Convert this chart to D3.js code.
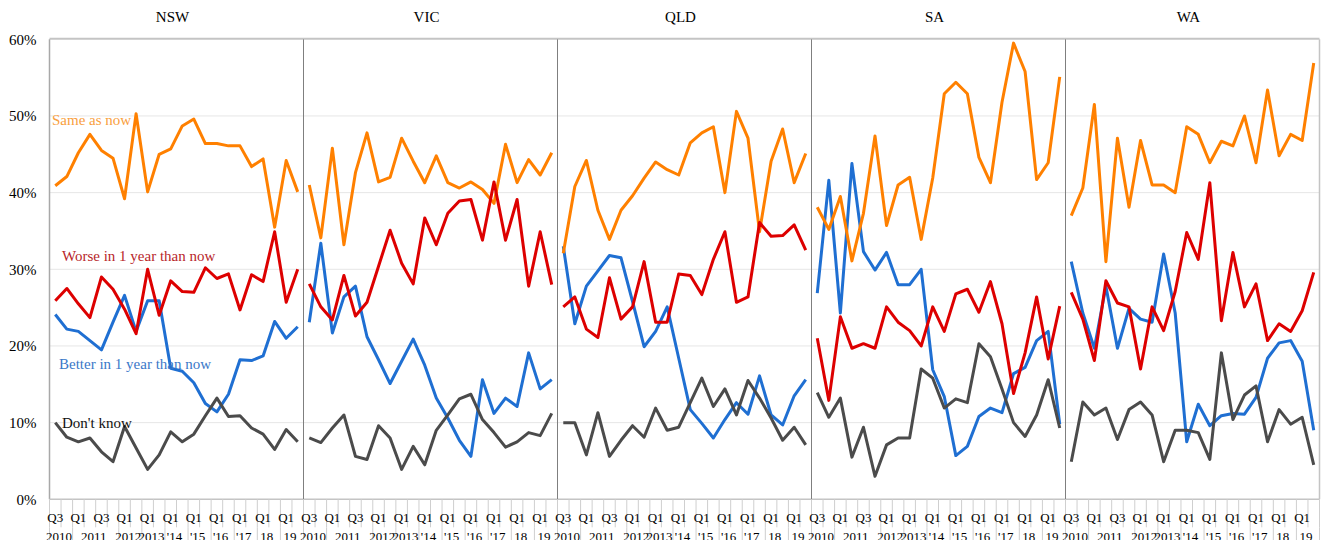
<!DOCTYPE html>
<html><head><meta charset="utf-8">
<script src="https://cdn.jsdelivr.net/npm/d3@7"></script>
<style>
body{margin:0;background:#fff}
svg{display:block}
text{font-family:"Liberation Serif","Times New Roman",serif}
</style>
</head><body>
<svg id="chart" width="1327" height="540"></svg>
<script>
// ---------- data ----------
const states = ["NSW", "VIC", "QLD", "SA", "WA"];
const seriesNames = ["Same as now", "Worse in 1 year than now", "Better in 1 year than now", "Don't know"];
const quarterLabels = ["Q3","","Q1","","Q3","","Q1","","Q1","","Q1","","Q1","","Q1","","Q1","","Q1","","Q1",""];
const yearLabels = ["2010","2011","2012","2013","'14","'15","'16","'17","18","19"];
const yearSpans  = [2,4,2,2,2,2,2,2,2,2];
const yTicks = [0,10,20,30,40,50,60];

const nswSame   = [40.9,42.1,45.2,47.6,45.5,44.5,39.2,50.3,40.1,45.0,45.7,48.7,49.6,46.4,46.4,46.1,46.1,43.4,44.4,35.5,44.2,40.1];
const nswWorse  = [25.9,27.5,25.5,23.7,29.0,27.4,24.8,21.6,30.0,24.0,28.5,27.1,27.0,30.2,28.8,29.4,24.7,29.3,28.4,34.9,25.7,30.0];
const nswBetter = [24.1,22.2,21.9,20.7,19.5,23.1,26.6,21.9,25.9,25.9,17.1,16.7,15.2,12.5,11.4,13.7,18.2,18.1,18.7,23.2,21.0,22.5];
const nswDk     = [10.0,8.1,7.5,8.0,6.2,4.9,9.5,6.7,3.9,5.8,8.8,7.5,8.5,10.9,13.2,10.8,10.9,9.3,8.5,6.5,9.1,7.5];

const vicSame   = [41.0,34.1,45.8,33.2,42.6,47.8,41.4,42.0,47.1,44.1,41.3,44.8,41.3,40.6,41.4,40.4,38.6,46.3,41.3,44.3,42.3,45.2];
const vicWorse  = [28.1,25.1,23.4,29.2,23.9,25.7,30.4,35.1,30.8,28.1,36.7,33.2,37.3,38.9,39.1,33.8,41.4,33.8,39.1,27.8,34.9,28.0];
const vicBetter = [23.1,33.4,21.7,26.4,27.8,21.2,18.2,15.1,18.0,20.9,17.5,13.2,10.6,7.7,5.6,15.6,11.2,13.2,12.1,19.1,14.4,15.6];
const vicDk     = [8.0,7.4,9.3,11.0,5.6,5.2,9.6,8.0,3.9,6.9,4.5,9.0,11.0,13.1,13.7,10.4,8.7,6.8,7.5,8.7,8.3,11.2];

const qldSame   = [32.1,40.8,44.2,37.7,33.9,37.7,39.6,41.9,44.0,43.0,42.3,46.5,47.8,48.6,40.0,50.6,47.1,34.9,44.1,48.3,41.3,45.1];
const qldWorse  = [25.1,26.4,22.2,21.1,28.9,23.5,25.1,31.0,23.1,23.1,29.4,29.2,26.7,31.3,34.9,25.7,26.4,36.1,34.3,34.4,35.8,32.5];
const qldBetter = [33.0,22.9,27.8,29.8,31.8,31.5,25.8,19.9,21.9,25.1,18.4,11.7,9.9,8.0,10.4,12.6,11.1,16.1,11.0,9.7,13.5,15.6];
const qldDk     = [10.0,10.0,5.8,11.3,5.6,7.7,9.6,8.1,11.9,9.0,9.4,12.6,15.8,12.1,14.4,11.0,15.5,13.2,10.6,7.7,9.4,7.1];

const saSame    = [38.1,35.2,39.5,31.1,37.3,47.4,35.7,41.0,42.0,33.9,41.9,52.9,54.4,52.9,44.6,41.3,51.8,59.5,55.8,41.7,43.9,55.1];
const saWorse   = [21.0,12.9,23.8,19.7,20.3,19.7,25.1,23.1,22.0,20.0,25.1,21.9,26.8,27.4,24.4,28.4,22.9,13.8,19.1,26.4,18.3,25.2];
const saBetter  = [26.9,41.6,24.3,43.8,32.3,29.9,32.2,28.0,28.0,30.0,16.9,13.4,5.7,6.9,10.8,11.9,11.3,16.4,17.2,20.7,21.9,9.8];
const saDk      = [13.9,10.7,13.2,5.5,9.4,3.0,7.1,8.0,8.0,17.0,15.8,11.9,13.1,12.6,20.3,18.6,14.4,10.0,8.2,11.0,15.6,9.3];

const waSame    = [37.0,40.6,51.5,31.0,47.1,38.1,46.8,41.0,41.0,40.0,48.6,47.6,43.9,46.7,46.1,50.0,43.9,53.4,44.8,47.6,46.8,56.9];
const waWorse   = [27.0,23.5,18.1,28.5,25.6,25.1,17.0,25.1,22.0,27.1,34.8,31.3,41.3,23.3,32.2,25.1,28.1,20.7,22.9,21.9,24.6,29.6];
const waBetter  = [31.0,24.3,19.7,27.8,19.7,24.9,23.5,23.1,32.0,24.3,7.5,12.4,9.6,10.9,11.2,11.1,13.3,18.4,20.4,20.7,18.0,9.0];
const waDk      = [4.9,12.7,11.0,11.9,7.8,11.7,12.7,11.0,4.9,9.0,9.0,8.7,5.2,19.1,10.4,13.6,14.8,7.5,11.7,9.8,10.7,4.5];

// ---------- assemble ----------
const panelData = {
  NSW: [nswSame, nswWorse, nswBetter, nswDk],
  VIC: [vicSame, vicWorse, vicBetter, vicDk],
  QLD: [qldSame, qldWorse, qldBetter, qldDk],
  SA:  [saSame,  saWorse,  saBetter,  saDk],
  WA:  [waSame,  waWorse,  waBetter,  waDk]
};
const lineColors  = ["#FF8000", "#DD0000", "#1F6FD2", "#4B4B4B"];
const labelColors = ["#F9A040", "#B8262A", "#3A78C8", "#111111"];
const drawOrder = [2, 0, 1, 3];

const svg = d3.select("#chart");
const L = 49.5, R = 1319.5, T = 39.3, B = 499.3;
const y = d3.scaleLinear().domain([0, 60]).range([B, T]);
const outer = d3.scaleBand().domain(states).range([L, R]);
const cats = d3.range(quarterLabels.length);
const x = d3.scaleBand().domain(cats).range([0, outer.bandwidth()]);

// gridlines
svg.append("g").selectAll("line").data(yTicks.filter(d => d > 0 && d < 60)).join("line")
  .attr("x1", L).attr("x2", R).attr("y1", d => y(d)).attr("y2", d => y(d))
  .attr("stroke", "#e6e6e6").attr("stroke-width", 1);

// y axis
const yAxis = svg.append("g").attr("transform", `translate(${L},0)`)
  .call(d3.axisLeft(y).tickValues(yTicks).tickFormat(d => d + "%").tickSize(0).tickPadding(13));
yAxis.select(".domain").remove();
yAxis.selectAll("text").attr("font-size", 15).attr("fill", "#000")
  .style("font-family", '"Liberation Serif","Times New Roman",serif');

// frame
svg.append("line").attr("x1", L).attr("x2", R).attr("y1", T - 0.5).attr("y2", T - 0.5)
  .attr("stroke", "#c4c4c4").attr("stroke-width", 2);
svg.append("line").attr("x1", L).attr("x2", L).attr("y1", T).attr("y2", B)
  .attr("stroke", "#a8a8a8").attr("stroke-width", 1.5);
svg.append("line").attr("x1", R).attr("x2", R).attr("y1", T).attr("y2", B)
  .attr("stroke", "#c4c4c4").attr("stroke-width", 1.5);
svg.append("line").attr("x1", L).attr("x2", R).attr("y1", B).attr("y2", B)
  .attr("stroke", "#c4c4c4").attr("stroke-width", 1.5);

// panels
states.forEach((s, si) => {
  const g = svg.append("g").attr("transform", `translate(${outer(s)},0)`);
  const pw = outer.bandwidth();

  if (si > 0) {
    g.append("line").attr("x1", 0).attr("x2", 0).attr("y1", T).attr("y2", B)
      .attr("stroke", "#7f7f7f").attr("stroke-width", 1);
  }

  // title
  g.append("text").attr("x", pw / 2 - 4).attr("y", 22).attr("text-anchor", "middle")
    .attr("font-size", 15).attr("fill", "#000").text(s);

  // category ticks
  const bounds = d3.range(quarterLabels.length + 1).map(i => i * x.step());
  g.append("g").selectAll("line").data(bounds).join("line")
    .attr("x1", d => d).attr("x2", d => d).attr("y1", B).attr("y2", B + 28)
    .attr("stroke", "#cfcfcf").attr("stroke-width", 1);

  // year group separators
  const cum = [0];
  yearSpans.forEach(n => cum.push(cum[cum.length - 1] + n));
  g.append("g").selectAll("line").data(cum).join("line")
    .attr("x1", d => d * x.step()).attr("x2", d => d * x.step()).attr("y1", B + 28).attr("y2", 540)
    .attr("stroke", "#cfcfcf").attr("stroke-width", 1);

  // quarter labels
  g.append("g").selectAll("text").data(cats.filter(i => quarterLabels[i] !== "")).join("text")
    .attr("x", i => x(i) + x.bandwidth() / 2).attr("y", 522)
    .attr("text-anchor", "middle").attr("font-size", 13).attr("fill", "#000")
    .text(i => quarterLabels[i]);

  // year labels
  g.append("g").selectAll("text").data(yearLabels).join("text")
    .attr("x", (d, i) => (cum[i] + cum[i + 1]) / 2 * x.step() - 2).attr("y", 541)
    .attr("text-anchor", "middle").attr("font-size", 13).attr("fill", "#000")
    .text(d => d);

  // lines
  const line = d3.line().x((d, i) => x(i) + x.bandwidth() / 2).y(d => y(d));
  drawOrder.forEach(k => {
    g.append("path").datum(panelData[s][k]).attr("d", line)
      .attr("fill", "none").attr("stroke", lineColors[k]).attr("stroke-width", 3)
      .attr("stroke-linejoin", "round").attr("stroke-linecap", "butt");
  });
});

// series labels (in NSW panel)
const labelPos = [[52, 125], [62, 261], [59, 369], [62, 428]];
svg.append("g").selectAll("text").data(seriesNames).join("text")
  .attr("x", (d, i) => labelPos[i][0]).attr("y", (d, i) => labelPos[i][1])
  .attr("font-size", 15).attr("fill", (d, i) => labelColors[i])
  .text(d => d);
</script>
</body></html>
